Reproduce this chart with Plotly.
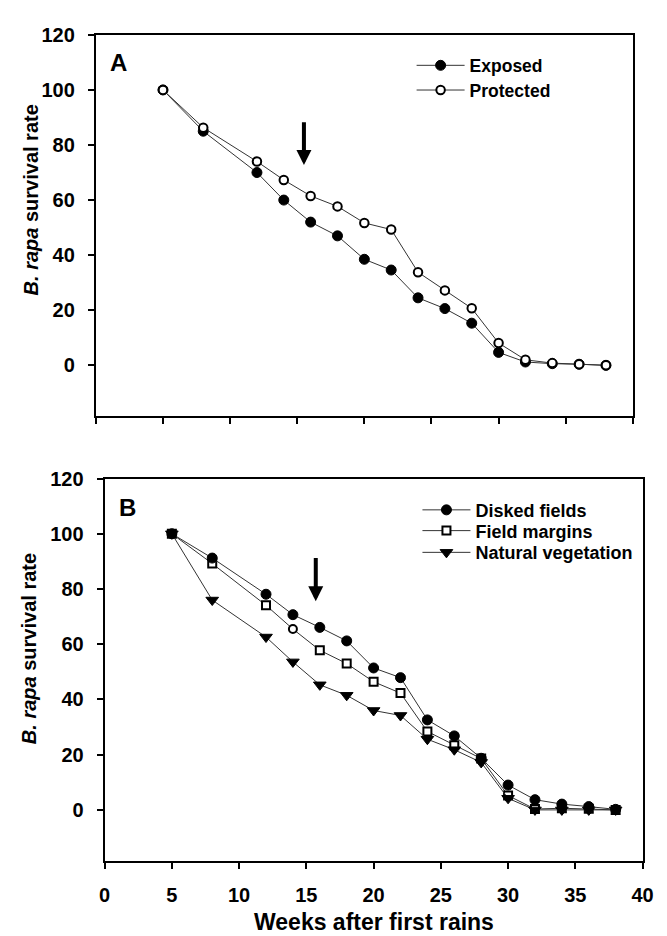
import plotly.graph_objects as go

# ---------------- data ----------------
weeks = [5, 8, 12, 14, 16, 18, 20, 22, 24, 26, 28, 30, 32, 34, 36, 38]

exposed   = [100, 85, 70, 60, 52, 47, 38.5, 34.6, 24.5, 20.6, 15.3, 4.7, 1.2, 0.6, 0.4, 0]
protected = [100, 86.3, 74, 67.3, 61.5, 57.7, 51.7, 49.3, 33.8, 27.2, 20.7, 8.1, 2.0, 0.8, 0.4, 0]

disked   = [100, 91.2, 78.1, 70.7, 66.1, 61.2, 51.4, 47.9, 32.6, 26.8, 18.7, 9.0, 3.7, 2.1, 1.2, 0.2]
margins  = [100, 89.2, 74.1, 65.5, 57.8, 53.0, 46.4, 42.3, 28.4, 23.4, 18.6, 5.2, 0.3, 0.6, 0.4, 0]
natural  = [100, 76.0, 62.6, 53.6, 45.3, 41.5, 36.0, 34.2, 25.6, 21.8, 17.2, 4.2, 0, 0, 0, 0]

x_ticks = [0, 5, 10, 15, 20, 25, 30, 35, 40]
y_ticks = [0, 20, 40, 60, 80, 100, 120]

arrow_week = 15.5
arrow_a = (88.8, 72.7)
arrow_b = (91.8, 75.6)

# ---------------- layout geometry ----------------
W, H = 667, 936
OFF = 8  # page body margin: the figure starts at page (8, 8)
FONT = "Liberation Sans"
LINE_COL = "#333333"

def px_x(p):
    """page x pixel -> paper fraction"""
    return (p - OFF) / W

def px_y(p):
    """page y pixel -> paper fraction"""
    return 1 - (p - OFF) / H

fig = go.Figure()

# Panel A
fig.add_trace(go.Scatter(
    x=weeks, y=exposed, mode="lines+markers", name="Exposed",
    line=dict(color=LINE_COL, width=1),
    marker=dict(symbol="circle", size=10, color="black", line=dict(color="black", width=1)),
    xaxis="x", yaxis="y", legend="legend"))
fig.add_trace(go.Scatter(
    x=weeks, y=protected, mode="lines+markers", name="Protected",
    line=dict(color=LINE_COL, width=1),
    marker=dict(symbol="circle", size=8.5, color="white", line=dict(color="black", width=2)),
    xaxis="x", yaxis="y", legend="legend2"))

# Panel B
margin_symbols = ["square"] * len(weeks)
margin_symbols[3] = "circle"
fig.add_trace(go.Scatter(
    x=weeks, y=margins, mode="lines+markers", name="Field margins",
    line=dict(color=LINE_COL, width=1),
    marker=dict(symbol=margin_symbols, size=8, color="white", line=dict(color="black", width=2)),
    xaxis="x2", yaxis="y2", legend="legend4"))
fig.add_trace(go.Scatter(
    x=weeks, y=natural, mode="lines+markers", name="Natural vegetation",
    line=dict(color=LINE_COL, width=1),
    marker=dict(symbol="triangle-down", size=11, color="black", line=dict(color="black", width=1)),
    xaxis="x2", yaxis="y2", legend="legend5"))
fig.add_trace(go.Scatter(
    x=weeks, y=disked, mode="lines+markers", name="Disked fields",
    line=dict(color=LINE_COL, width=1),
    marker=dict(symbol="circle", size=10, color="black", line=dict(color="black", width=1)),
    xaxis="x2", yaxis="y2", legend="legend3"))

tickfont = dict(family=FONT, size=20, color="black", weight="bold")

common_x = dict(range=[0, 40], tickvals=x_ticks, ticks="outside", ticklen=6, tickwidth=2,
                tickcolor="black", showline=True, linecolor="black", linewidth=2, mirror=True,
                showgrid=False, zeroline=False, tickfont=tickfont, ticklabelstandoff=9)
common_y = dict(range=[-18.5, 120], tickvals=y_ticks, ticks="outside", ticklen=6, tickwidth=2,
                tickcolor="black", showline=True, linecolor="black", linewidth=2, mirror=True,
                showgrid=False, zeroline=False, tickfont=tickfont, ticklabelstandoff=9)

legend_font_a = dict(family=FONT, size=17.5, color="black", weight="bold")
legend_font_b = dict(family=FONT, size=18, color="black", weight="bold")

LEG_DY = 7  # plotly legend item sits slightly below the anchor

def leg(xp, yp, font):
    return dict(x=px_x(xp), y=px_y(yp - LEG_DY), xanchor="left", yanchor="middle",
                bgcolor="rgba(0,0,0,0)", borderwidth=0, font=font, itemwidth=48)

fig.update_layout(
    width=W, height=H,
    margin=dict(l=0, r=0, t=0, b=0),
    paper_bgcolor="white", plot_bgcolor="white",
    xaxis=dict(domain=[px_x(92), px_x(643)], anchor="y", showticklabels=False, **common_x),
    yaxis=dict(domain=[px_y(410), px_y(24)], anchor="x", **common_y),
    xaxis2=dict(domain=[px_x(101), px_x(653)], anchor="y2", showticklabels=True, **common_x),
    yaxis2=dict(domain=[px_y(860), px_y(473)], anchor="x2", **common_y),
    legend=leg(416, 62, legend_font_a),
    legend2=leg(416, 87, legend_font_a),
    legend3=leg(422, 512, legend_font_b),
    legend4=leg(422, 533, legend_font_b),
    legend5=leg(422, 555, legend_font_b),
    showlegend=True,
)

ann_font_title = dict(family=FONT, size=20, color="black", weight="bold")
annotations = [
    # y-axis titles
    dict(text="<i>B. rapa</i> survival rate", xref="paper", yref="paper",
         x=px_x(25), y=px_y(191), textangle=-90, showarrow=False, font=ann_font_title,
         xanchor="center", yanchor="middle"),
    dict(text="<i>B. rapa</i> survival rate", xref="paper", yref="paper",
         x=px_x(23), y=px_y(645), textangle=-90, showarrow=False, font=ann_font_title,
         xanchor="center", yanchor="middle"),
    # x-axis title
    dict(text="Weeks after first rains", xref="paper", yref="paper",
         x=px_x(377), y=px_y(922), showarrow=False,
         font=dict(family=FONT, size=23, color="black", weight="bold"),
         xanchor="center", yanchor="middle"),
    # panel letters
    dict(text="A", xref="x", yref="y", x=1.7, y=110, showarrow=False,
         font=dict(family=FONT, size=24, color="black", weight="bold"),
         xanchor="center", yanchor="middle"),
    dict(text="B", xref="x2", yref="y2", x=1.7, y=109.5, showarrow=False,
         font=dict(family=FONT, size=24, color="black", weight="bold"),
         xanchor="center", yanchor="middle"),
    # arrows
    dict(x=arrow_week, y=arrow_a[1], ax=arrow_week, ay=arrow_a[0], xref="x", yref="y",
         axref="x", ayref="y", showarrow=True, arrowhead=2, arrowwidth=4, arrowsize=0.75,
         arrowcolor="black", text="", standoff=0),
    dict(x=arrow_week + 0.2, y=arrow_b[1], ax=arrow_week + 0.2, ay=arrow_b[0], xref="x2", yref="y2",
         axref="x2", ayref="y2", showarrow=True, arrowhead=2, arrowwidth=4, arrowsize=0.75,
         arrowcolor="black", text="", standoff=0),
]
fig.update_layout(annotations=annotations)

fig.write_html("out.html")
